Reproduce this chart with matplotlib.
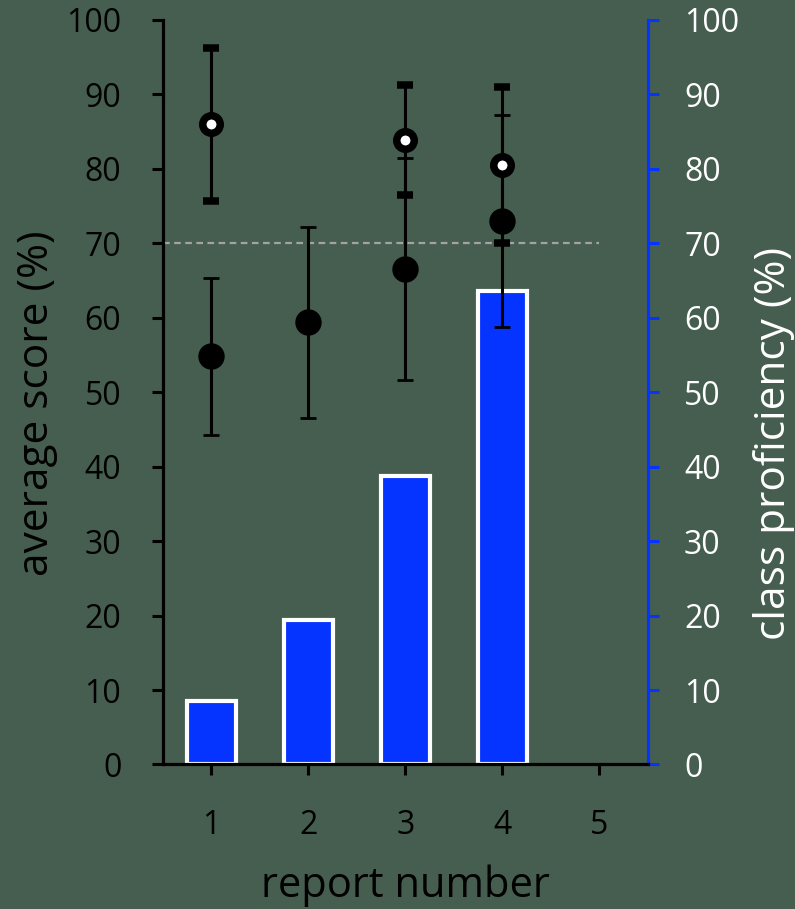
import numpy as np
import matplotlib
matplotlib.use("Agg")
import matplotlib.pyplot as plt

# report numbers and values
reports = [1, 2, 3, 4]
proficiency = [8.5, 19.4, 38.8, 63.6]          # bars, right axis

avg_score = [54.8, 59.4, 66.6, 73.0]           # filled circles
avg_err = [10.6, 12.8, 14.9, 14.2]

top_reports = [1, 3, 4]                        # open circles
top_score = [86.0, 83.9, 80.5]
top_err = [10.3, 7.4, 10.5]

target = 70
xticks = [1, 2, 3, 4, 5]
yticks = list(range(0, 101, 10))

bg = "#465e4f"
blue = "#0533ff"

plt.rcParams['font.family'] = ['Open Sans', 'DejaVu Sans']
plt.rcParams['font.size'] = 23


def main():
    fig = plt.figure(figsize=(7.95, 9.09), dpi=100, facecolor=bg)
    ax = fig.add_axes([0.205, 0.159, 0.61, 0.819])
    ax2 = ax.twinx()
    ax.set_zorder(ax2.get_zorder() + 1)
    ax.patch.set_visible(False)
    ax2.set_facecolor(bg)

    # bars on the right axis
    ax2.bar(reports, proficiency, width=0.5, color=blue, edgecolor="white", linewidth=3)

    # dashed target line
    ax.plot([0.5, 5], [target, target], ls=(0, (3, 2)), color="#a3a3a3", lw=1.6, zorder=1)

    ax.errorbar(reports, avg_score, yerr=avg_err, fmt="o", color="black", ms=18,
                mfc="black", mec="black", elinewidth=2.2, capsize=6, capthick=2, zorder=3)
    ax.errorbar(top_reports, top_score, yerr=top_err, fmt="o", color="black", ms=12.6,
                mfc="white", mec="black", mew=5.4, elinewidth=2.2, capsize=6, capthick=2, zorder=4)

    for a in (ax, ax2):
        a.set_xlim(0.5, 5.5)
        a.set_ylim(0, 100)
        a.spines['top'].set_visible(False)
    ax.spines['right'].set_visible(False)
    ax2.spines['left'].set_visible(False)
    ax2.spines['bottom'].set_visible(False)

    ax.set_xticks(xticks)
    ax.set_yticks(yticks)
    ax2.set_yticks(yticks)
    for s in ('left', 'bottom'):
        ax.spines[s].set_linewidth(2.3)
        ax.spines[s].set_color("black")
    ax2.spines['right'].set_linewidth(2.3)
    ax2.spines['right'].set_color(blue)

    ax.tick_params(axis='y', length=8, width=2.2, color="black", labelcolor="black", pad=22)
    ax.tick_params(axis='x', length=8, width=2.2, color="black", labelcolor="black", pad=24)
    ax2.tick_params(axis='y', length=8, width=2.2, color=blue, labelcolor="white", pad=18)

    ax.set_xlabel("report number", fontsize=30, labelpad=16)
    ax.set_ylabel("average score (%)", fontsize=30.5, labelpad=6)
    ax2.set_ylabel("class proficiency (%)", fontsize=30.5, color="white", labelpad=10)
    ax.yaxis.label.set_y(0.485)
    ax2.yaxis.label.set_y(0.431)

    fig.savefig("out.png", dpi=100, facecolor=bg)


if __name__ == "__main__":
    main()
